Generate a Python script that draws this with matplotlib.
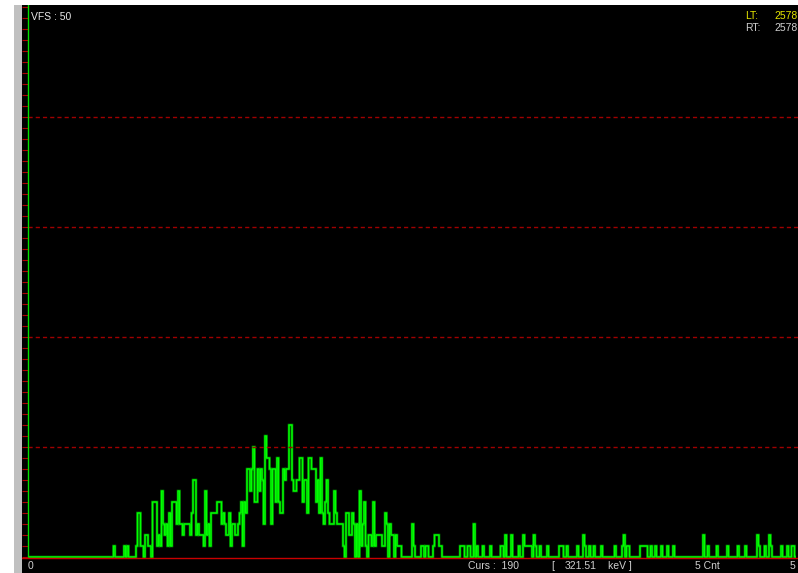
import numpy as np
import matplotlib
matplotlib.use("Agg")
import matplotlib.pyplot as plt
from matplotlib.patches import Rectangle

plt.rcParams['font.family'] = ['Liberation Sans', 'DejaVu Sans']

# spectrum counts per channel (512 channels)
counts = [
    0, 0, 0, 0, 0, 0, 0, 0, 0, 0, 0, 0, 0, 0, 0, 0,
    0, 0, 0, 0, 0, 0, 0, 0, 0, 0, 0, 0, 0, 0, 0, 0,
    0, 0, 0, 0, 0, 0, 0, 0, 0, 0, 0, 0, 0, 0, 0, 0,
    0, 0, 0, 0, 0, 0, 0, 0, 0, 1, 0, 0, 0, 0, 0, 0,
    1, 0, 1, 0, 0, 0, 0, 0, 1, 4, 4, 1, 1, 0, 2, 2,
    1, 1, 0, 5, 5, 5, 1, 2, 1, 6, 3, 2, 3, 1, 4, 1,
    5, 5, 5, 3, 6, 3, 3, 2, 3, 3, 3, 3, 2, 4, 7, 7,
    2, 3, 2, 2, 2, 1, 6, 2, 3, 1, 4, 4, 4, 4, 5, 5,
    5, 3, 4, 3, 2, 2, 4, 1, 3, 3, 2, 2, 3, 4, 5, 1,
    5, 4, 8, 8, 6, 8, 10, 5, 5, 8, 6, 8, 7, 3, 11, 9,
    9, 8, 3, 8, 8, 5, 9, 5, 4, 4, 8, 7, 8, 8, 12, 12,
    7, 6, 6, 7, 7, 9, 9, 5, 7, 7, 4, 9, 9, 8, 8, 8,
    5, 7, 4, 9, 4, 3, 5, 7, 4, 3, 3, 3, 6, 4, 3, 3,
    3, 3, 1, 0, 4, 4, 2, 2, 4, 3, 0, 3, 0, 6, 1, 3,
    5, 1, 0, 2, 2, 1, 5, 1, 2, 2, 2, 2, 1, 1, 4, 3,
    0, 3, 2, 2, 0, 2, 1, 1, 1, 0, 0, 0, 0, 0, 0, 0,
    3, 1, 0, 0, 0, 0, 1, 1, 0, 1, 1, 0, 0, 0, 1, 2,
    2, 2, 1, 1, 0, 0, 0, 0, 0, 0, 0, 0, 0, 0, 0, 0,
    1, 1, 1, 0, 0, 1, 1, 0, 0, 3, 0, 1, 0, 0, 0, 1,
    0, 0, 0, 0, 1, 0, 0, 0, 0, 0, 0, 1, 1, 0, 2, 0,
    0, 0, 2, 0, 0, 0, 0, 1, 0, 0, 2, 1, 1, 1, 1, 1,
    0, 2, 1, 0, 0, 1, 0, 0, 0, 0, 1, 0, 0, 0, 0, 0,
    0, 0, 1, 1, 1, 0, 0, 1, 0, 0, 0, 0, 0, 0, 1, 0,
    0, 0, 2, 1, 0, 0, 1, 0, 0, 1, 0, 0, 0, 0, 1, 0,
    0, 0, 0, 0, 0, 0, 0, 1, 0, 0, 0, 0, 1, 2, 0, 1,
    1, 0, 0, 0, 0, 0, 0, 0, 1, 1, 1, 1, 1, 0, 0, 1,
    0, 0, 1, 0, 0, 0, 1, 0, 0, 0, 1, 0, 0, 0, 1, 0,
    0, 0, 0, 0, 0, 0, 0, 0, 0, 0, 0, 0, 0, 0, 0, 0,
    0, 0, 2, 0, 0, 1, 0, 0, 0, 0, 0, 1, 0, 0, 0, 0,
    0, 0, 1, 0, 0, 0, 0, 0, 0, 1, 0, 0, 0, 0, 1, 0,
    0, 0, 0, 0, 0, 0, 2, 1, 0, 0, 0, 1, 0, 0, 2, 1,
    0, 0, 0, 0, 0, 0, 1, 0, 0, 0, 1, 0, 0, 1, 1, 0,
]
vfs = 50
grid_levels = [10, 20, 30, 40]
n_chan = len(counts)

W, H = 798, 573
fig = plt.figure(figsize=(W / 100, H / 100), dpi=100, facecolor='white')

def fx(px):
    return px / W

def fy(py):
    return 1 - py / H

# grey side strip
fig.patches.append(Rectangle((fx(14), fy(573)), fx(8), (573 - 5) / H,
                             transform=fig.transFigure, facecolor='#c0c0c0',
                             edgecolor='none', zorder=0))

ax = fig.add_axes([fx(22), fy(573), fx(798 - 22), (573 - 5) / H])
ax.set_facecolor('black')
for s in ax.spines.values():
    s.set_visible(False)

# 1.5 px per channel, 11 px per count
ax.set_xlim(-4, (798 - 28) / 1.5)
ax.set_ylim(-16 / 11, (557 - 5) / 11)

ax.set_yticks(np.arange(0, vfs + 1))
ax.tick_params(axis='y', direction='in', length=4.5, width=0.8, color='#b00000',
               labelleft=False, pad=0)
ax.set_xticks([])

ax.hlines(grid_levels, 0, n_chan + 2, colors='#a00000', linewidth=1.0,
          linestyles=(0, (3.0, 2.2)))
ax.axhline(-0.1, color='#c80000', linewidth=1.0, xmin=0)
ax.vlines(0, 0, vfs + 1, colors='#00e000', linewidth=1.0)

edges = np.arange(n_chan + 1)
ax.stairs(counts, edges, baseline=None, color='#00a000', linewidth=1.8)
ax.stairs(counts, edges, baseline=None, color='#00ff00', linewidth=0.9)

fs = 7.5
fig.text(fx(31), fy(17), 'VFS : 50', color='#e8e8e8', fontsize=fs, va='center')
fig.text(fx(745), fy(16), 'LT:', color='#e6e600', fontsize=fs, va='center')
fig.text(fx(774), fy(16), '2578', color='#e6e600', fontsize=fs, va='center')
fig.text(fx(745), fy(28), 'RT:', color='#d0d0d0', fontsize=fs, va='center')
fig.text(fx(774), fy(28), '2578', color='#d0d0d0', fontsize=fs, va='center')

fig.text(fx(28), fy(566), '0', color='#d0d0d0', fontsize=fs, va='center')
fig.text(fx(468), fy(566), 'Curs :  190', color='#d0d0d0', fontsize=fs, va='center')
fig.text(fx(551), fy(566), '[', color='#d0d0d0', fontsize=fs, va='center')
fig.text(fx(565), fy(566), '321.51', color='#d0d0d0', fontsize=fs, va='center')
fig.text(fx(608), fy(566), 'keV ]', color='#d0d0d0', fontsize=fs, va='center')
fig.text(fx(695), fy(566), '5 Cnt', color='#d0d0d0', fontsize=fs, va='center')
fig.text(fx(790), fy(566), '5', color='#d0d0d0', fontsize=fs, va='center')

fig.savefig('out.png', dpi=100, facecolor='white')
